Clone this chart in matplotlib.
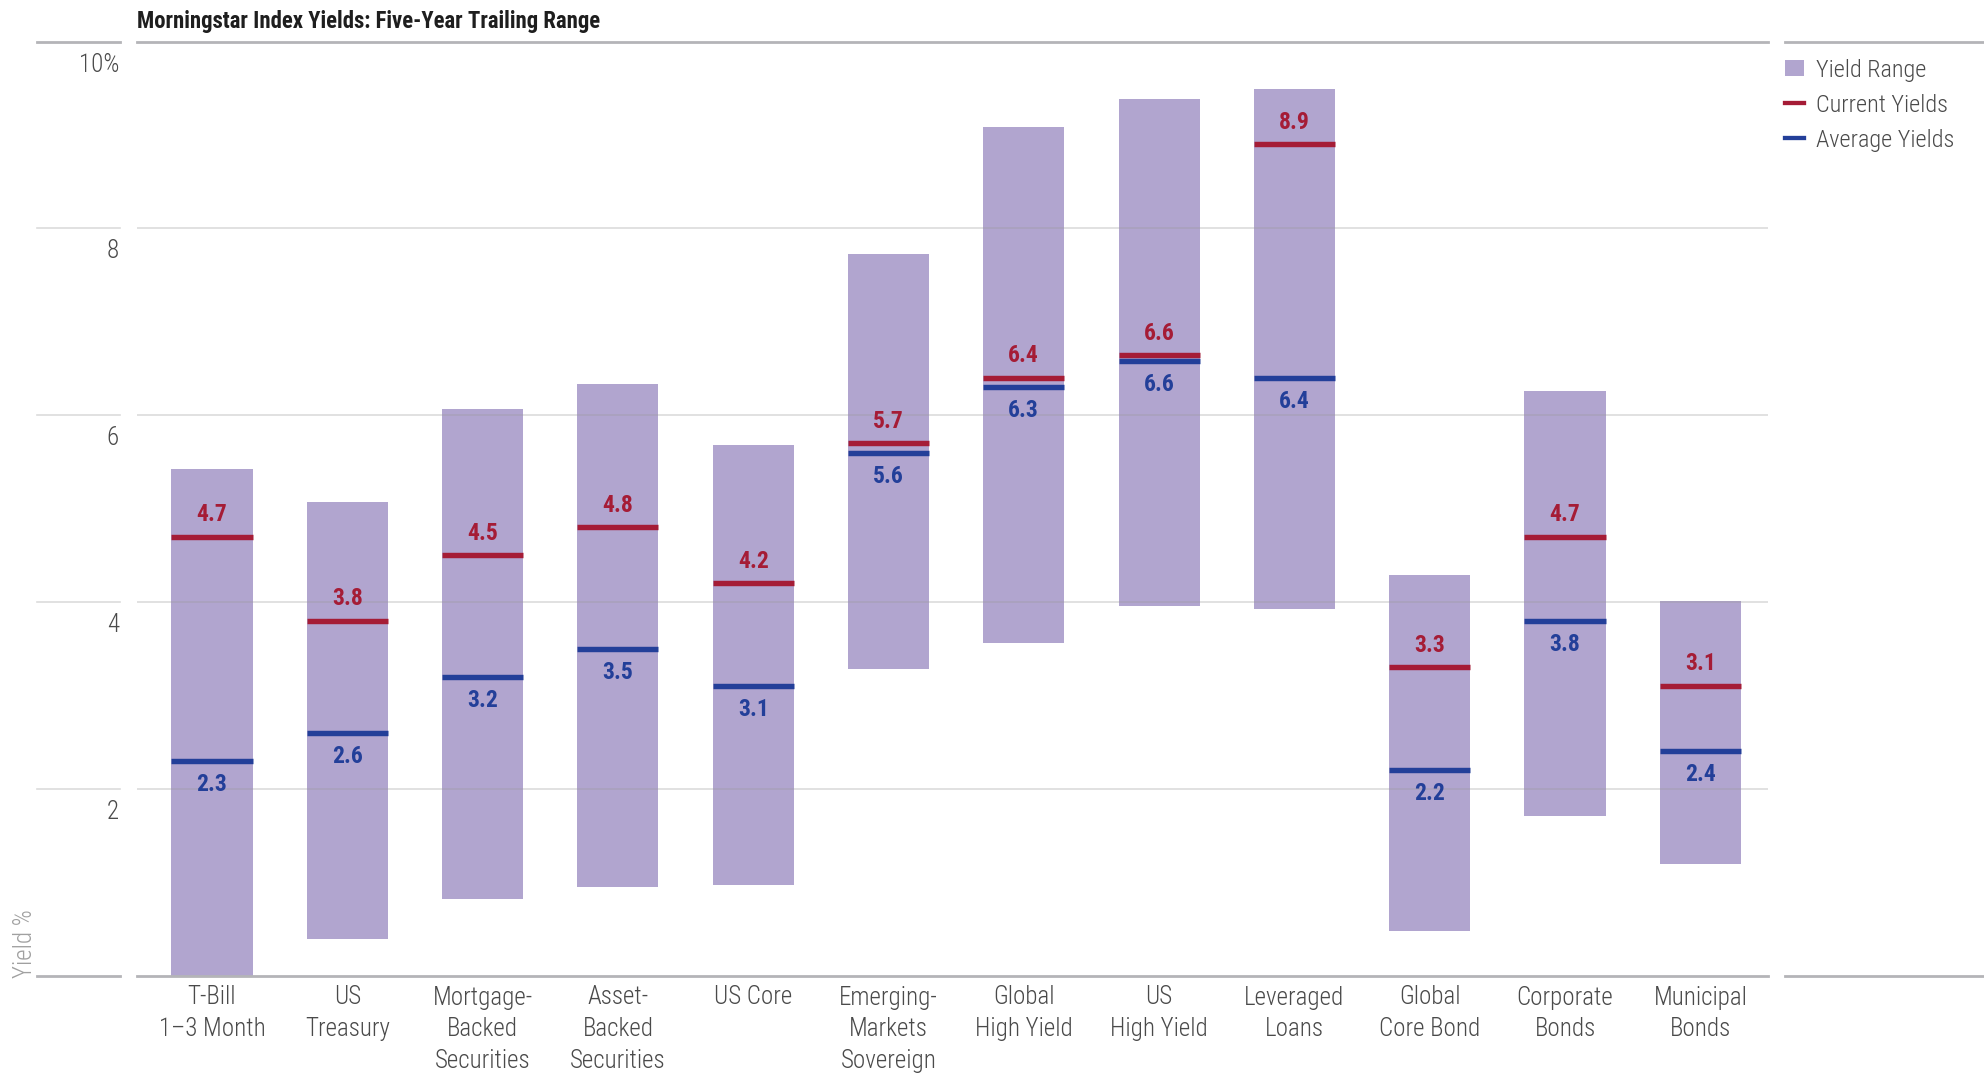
import matplotlib
matplotlib.use("Agg")
import matplotlib.pyplot as plt
from matplotlib import transforms
from matplotlib.lines import Line2D
from matplotlib.patches import Rectangle
import numpy as np

# ---- data -------------------------------------------------------------
categories = [
    "T-Bill\n1–3 Month", "US\nTreasury", "Mortgage-\nBacked\nSecurities",
    "Asset-\nBacked\nSecurities", "US Core", "Emerging-\nMarkets\nSovereign",
    "Global\nHigh Yield", "US\nHigh Yield", "Leveraged\nLoans",
    "Global\nCore Bond", "Corporate\nBonds", "Municipal\nBonds",
]
range_low = [0.0, 0.39, 0.82, 0.95, 0.97, 3.28, 3.56, 3.96, 3.93, 0.48, 1.71, 1.19]
range_high = [5.42, 5.07, 6.07, 6.33, 5.68, 7.73, 9.09, 9.39, 9.49, 4.29, 6.26, 4.01]
current_yields = [4.7, 3.8, 4.5, 4.8, 4.2, 5.7, 6.4, 6.64, 8.9, 3.3, 4.7, 3.1]
average_yields = [2.3, 2.6, 3.2, 3.5, 3.1, 5.6, 6.3, 6.58, 6.4, 2.2, 3.8, 2.4]
y_ticks = [2, 4, 6, 8, 10]
y_tick_labels = ["2", "4", "6", "8", "10%"]
legend_labels = ["Yield Range", "Current Yields", "Average Yields"]
title = "Morningstar Index Yields: Five-Year Trailing Range"

# ---- style --------------------------------------------------------------
FONT = "Roboto Condensed"
RANGE_C = "#b1a5cf"
CUR_C = "#a51c36"
AVG_C = "#233f99"
RULE_C = "#b4b4b8"
TEXT_C = "#4a4a4a"

W, H = 1984, 1074
fig = plt.figure(figsize=(W / 100, H / 100), dpi=100)
fig.patch.set_facecolor("white")

ax_l, ax_r, ax_b, ax_t = 137, 1768, 975.5, 41.7
ax = fig.add_axes([ax_l / W, 1 - ax_b / H, (ax_r - ax_l) / W, (ax_b - ax_t) / H])
ax.set_xlim(-0.554, 11.5)
ax.set_ylim(0, 10)
for s in ax.spines.values():
    s.set_visible(False)
ax.set_facecolor("none")

x = np.arange(len(categories))
bar_w = 0.6
low = np.array(range_low)
high = np.array(range_high)
ax.bar(x, high - low, bottom=low, width=bar_w, color=RANGE_C, zorder=2, linewidth=0)

# horizontal rules: light gridlines over bars, heavier top/bottom rules
blend = transforms.blended_transform_factory(fig.transFigure, ax.transData)
for yv in [2, 4, 6, 8]:
    ax.axhline(yv, color="#999999", alpha=0.35, lw=1.2, zorder=2.5)
    fig.add_artist(Line2D([37 / W, 120 / W], [yv, yv], transform=blend,
                          color="#999999", alpha=0.35, lw=1.2))
for yv in [0, 10]:
    ax.axhline(yv, color=RULE_C, lw=2.0, zorder=2.6, clip_on=False)
    fig.add_artist(Line2D([37 / W, 120 / W], [yv, yv], transform=blend,
                          color=RULE_C, lw=2.0))
    fig.add_artist(Line2D([1785 / W, 1.0], [yv, yv], transform=blend,
                          color=RULE_C, lw=2.0))

# current and average yield markers with value labels
half = bar_w / 2
ax.hlines(current_yields, x - half, x + half, color=CUR_C, lw=3.9, zorder=3)
ax.hlines(average_yields, x - half, x + half, color=AVG_C, lw=3.9, zorder=3.1)
for xi, cy, ay in zip(x, current_yields, average_yields):
    ax.annotate(f"{cy:.1f}", (xi, cy), xytext=(0, 11.2), textcoords="offset points",
                ha="center", va="baseline", fontsize=17, fontweight="bold",
                family=FONT, color=CUR_C, zorder=4)
    ax.annotate(f"{ay:.1f}", (xi, ay), xytext=(0, -21.6), textcoords="offset points",
                ha="center", va="baseline", fontsize=17, fontweight="bold",
                family=FONT, color=AVG_C, zorder=4)

# axis tick labels
ax.set_yticks([])
ax.set_xticks(x)
ax.set_xticklabels(categories, family=FONT, fontweight="light", fontsize=18,
                   color=TEXT_C, linespacing=1.42)
ax.tick_params(axis="x", length=0, pad=7.2)
for yv, lab in zip(y_ticks, y_tick_labels):
    ax.annotate(lab, (0, yv), xycoords=("axes fraction", "data"),
                xytext=(-13, -7.8), textcoords="offset points",
                ha="right", va="top", fontsize=18, fontweight="light",
                family=FONT, color=TEXT_C, annotation_clip=False)

fig.text(25 / W, 1 - 978 / H, "Yield %", rotation=90, ha="center", va="bottom",
         fontsize=18, fontweight="light", family=FONT, color="#a0a0a0")

# title
fig.text(137 / W, 1 - 28.3 / H, title, ha="left", va="baseline",
         fontsize=16.4, fontweight="bold", family=FONT, color="#1e1e1e")

# legend
rows = [68, 102.5, 137.5]
fig.add_artist(Rectangle((1785 / W, 1 - 75.5 / H), 19 / W, 15 / H,
                         transform=fig.transFigure, color=RANGE_C, lw=0))
for yy, col in zip(rows[1:], [CUR_C, AVG_C]):
    fig.add_artist(Line2D([1785 / W, 1804 / W], [1 - yy / H, 1 - yy / H],
                          transform=fig.transFigure, color=col, lw=3.1))
for yy, lab in zip(rows, legend_labels):
    fig.text(1816 / W, 1 - yy / H, lab, ha="left", va="center_baseline",
             fontsize=17.5, fontweight="light", family=FONT, color=TEXT_C)

fig.savefig("out.png", dpi=100)
